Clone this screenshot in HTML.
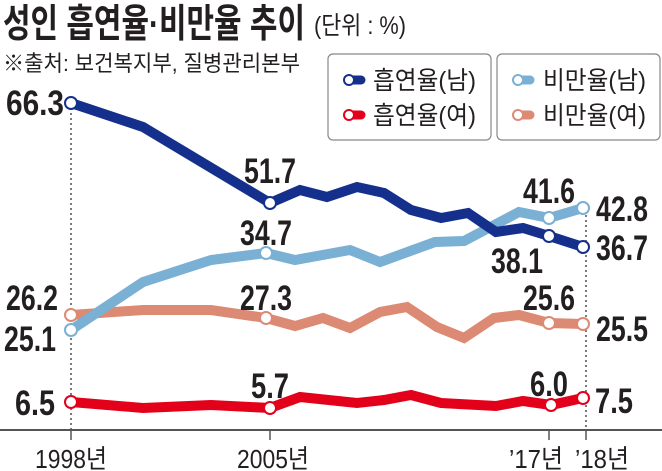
<!DOCTYPE html>
<html><head><meta charset="utf-8"><style>
body{margin:0;background:#fff;}
svg{display:block;font-family:"Liberation Sans","Noto Sans CJK KR",sans-serif;}
.v{font-weight:bold;font-size:35px;fill:#231f20;}
</style></head><body>
<svg width="662" height="471" viewBox="0 0 662 471">
<text x="3" y="37" font-size="39" font-weight="bold" fill="#231f20" textLength="302" lengthAdjust="spacingAndGlyphs">성인 흡연율·비만율 추이</text>
<text x="314" y="34" font-size="25" fill="#231f20" textLength="92" lengthAdjust="spacingAndGlyphs">(단위 : %)</text>
<text x="3" y="71" font-size="22" fill="#231f20" textLength="297" lengthAdjust="spacingAndGlyphs">※출처: 보건복지부, 질병관리본부</text>
<rect x="328" y="54" width="163" height="86" rx="5" fill="#fff" stroke="#888" stroke-width="1.2"/>
<rect x="497" y="54" width="163" height="86" rx="5" fill="#fff" stroke="#888" stroke-width="1.2"/>
<g stroke-linecap="round" stroke-width="9">
<line x1="349" y1="80" x2="361" y2="80" stroke="#14308c"/>
<line x1="349" y1="115" x2="361" y2="115" stroke="#e3001b"/>
<line x1="518" y1="80" x2="530" y2="80" stroke="#7ab0d4"/>
<line x1="518" y1="115" x2="530" y2="115" stroke="#dd8a74"/>
</g>
<g fill="#fff" stroke-width="2">
<circle cx="349" cy="80" r="5" stroke="#14308c"/><circle cx="349" cy="115" r="5" stroke="#e3001b"/>
<circle cx="518" cy="80" r="5" stroke="#7ab0d4"/><circle cx="518" cy="115" r="5" stroke="#dd8a74"/>
</g>
<g font-size="25" fill="#231f20">
<text x="373" y="89" textLength="103" lengthAdjust="spacingAndGlyphs">흡연율(남)</text>
<text x="373" y="124" textLength="103" lengthAdjust="spacingAndGlyphs">흡연율(여)</text>
<text x="543" y="89" textLength="103" lengthAdjust="spacingAndGlyphs">비만율(남)</text>
<text x="543" y="124" textLength="103" lengthAdjust="spacingAndGlyphs">비만율(여)</text>
</g>
<g stroke="#333" stroke-width="1.3" stroke-dasharray="2,3">
<line x1="71" y1="108" x2="71" y2="430"/><line x1="586" y1="215" x2="586" y2="430"/>
</g>
<line x1="0" y1="430" x2="662" y2="430" stroke="#555" stroke-width="2"/>
<g stroke="#555" stroke-width="1.5">
<line x1="71" y1="430" x2="71" y2="440"/><line x1="270" y1="430" x2="270" y2="440"/>
<line x1="549" y1="430" x2="549" y2="440"/><line x1="586" y1="430" x2="586" y2="440"/>
</g>
<g fill="none" stroke-width="10" stroke-linejoin="miter">
<polyline stroke="#dd8a74" points="71,315 143,310 211,310 266,318 295,326 323,318 350,328 380,312 407,307 437,327 464,338 494,318 519,315 549,323 583,324"/>
<polyline stroke="#7ab0d4" points="71,330 143,282 211,260 266,253 295,260 350,250 380,262 435,242 464,241 519,212 549,218 583,208"/>
<polyline stroke="#14308c" points="71,103 143,127 270,203 300,190 327,197 357,187 384,193 411,210 441,218 468,213 496,232 523,228 549,236 583,247"/>
<polyline stroke="#e3001b" points="71,402 143,408 211,405 270,408 300,397 357,403 384,400 411,395 441,403 496,406 523,401 551,405 583,398"/>
</g>
<g fill="#fff" stroke-width="2">
<circle cx="71" cy="315" r="6" stroke="#dd8a74"/><circle cx="266" cy="318" r="6" stroke="#dd8a74"/><circle cx="549" cy="323" r="6" stroke="#dd8a74"/><circle cx="583" cy="324" r="6" stroke="#dd8a74"/>
<circle cx="71" cy="330" r="6" stroke="#7ab0d4"/><circle cx="266" cy="253" r="6" stroke="#7ab0d4"/><circle cx="549" cy="218" r="6" stroke="#7ab0d4"/><circle cx="583" cy="208" r="6" stroke="#7ab0d4"/>
<circle cx="71" cy="103" r="6" stroke="#14308c"/><circle cx="270" cy="203" r="6" stroke="#14308c"/><circle cx="549" cy="236" r="6" stroke="#14308c"/><circle cx="583" cy="247" r="6" stroke="#14308c"/>
<circle cx="71" cy="402" r="6" stroke="#e3001b"/><circle cx="270" cy="408" r="6" stroke="#e3001b"/><circle cx="551" cy="405" r="6" stroke="#e3001b"/><circle cx="583" cy="398" r="6" stroke="#e3001b"/>
</g>
<g class="v" text-anchor="middle">
<text x="35" y="115" textLength="58" lengthAdjust="spacingAndGlyphs">66.3</text>
<text x="270" y="183" textLength="52" lengthAdjust="spacingAndGlyphs">51.7</text>
<text x="266" y="245" textLength="52" lengthAdjust="spacingAndGlyphs">34.7</text>
<text x="32" y="310" textLength="52" lengthAdjust="spacingAndGlyphs">26.2</text>
<text x="30" y="351" textLength="52" lengthAdjust="spacingAndGlyphs">25.1</text>
<text x="266" y="310" textLength="52" lengthAdjust="spacingAndGlyphs">27.3</text>
<text x="270" y="398" textLength="38" lengthAdjust="spacingAndGlyphs">5.7</text>
<text x="35" y="415" textLength="40" lengthAdjust="spacingAndGlyphs">6.5</text>
<text x="549" y="203" textLength="52" lengthAdjust="spacingAndGlyphs">41.6</text>
<text x="517" y="273" textLength="52" lengthAdjust="spacingAndGlyphs">38.1</text>
<text x="622" y="221" textLength="52" lengthAdjust="spacingAndGlyphs">42.8</text>
<text x="622" y="260" textLength="52" lengthAdjust="spacingAndGlyphs">36.7</text>
<text x="549" y="310" textLength="52" lengthAdjust="spacingAndGlyphs">25.6</text>
<text x="622" y="341" textLength="52" lengthAdjust="spacingAndGlyphs">25.5</text>
<text x="549" y="396" textLength="38" lengthAdjust="spacingAndGlyphs">6.0</text>
<text x="614" y="413" textLength="38" lengthAdjust="spacingAndGlyphs">7.5</text>
</g>
<g font-size="26" fill="#231f20" text-anchor="middle">
<text x="71" y="468" textLength="72" lengthAdjust="spacingAndGlyphs">1998년</text>
<text x="273" y="468" textLength="72" lengthAdjust="spacingAndGlyphs">2005년</text>
<text x="536" y="468" textLength="54" lengthAdjust="spacingAndGlyphs">’17년</text>
<text x="602" y="468" textLength="54" lengthAdjust="spacingAndGlyphs">’18년</text>
</g>
</svg>
</body></html>
